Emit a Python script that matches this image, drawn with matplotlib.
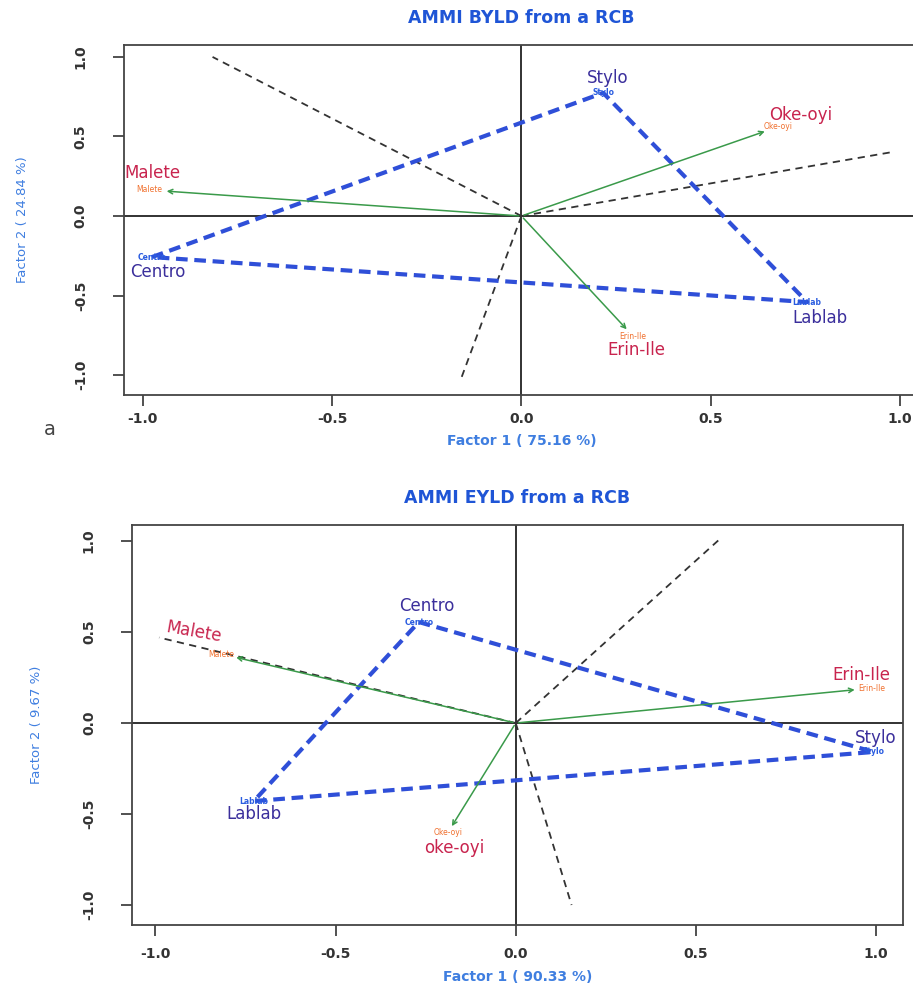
import numpy as np
import matplotlib
matplotlib.use('Agg')
from matplotlib import pyplot as plt

# BYLD biplot (factor 1 75.16 %, factor 2 24.84 %)
byld_env = ['Malete', 'Oke-oyi', 'Erin-Ile']
byld_env_x = [-0.984, 0.677, 0.295]
byld_env_y = [0.164, 0.560, -0.755]
byld_gen = ['Centro', 'Stylo', 'Lablab']
byld_gen_x = [-0.976, 0.216, 0.755]
byld_gen_y = [-0.258, 0.774, -0.541]
byld_ray_x = [-0.816, 0.982, -0.158]
byld_ray_y = [1.000, 0.403, -1.013]
byld_note = ['Malete', 'Oke-oyi', 'Erin-Ile', 'Centro', 'Stylo', 'Lablab']
byld_note_x = [-0.974, 0.737, 0.303, -0.960, 0.229, 0.789]
byld_note_y = [0.268, 0.635, -0.840, -0.350, 0.870, -0.640]
byld_note_rot = [0, 0, 0, 0, 0, 0]

# EYLD biplot (factor 1 90.33 %, factor 2 9.67 %)
eyld_env = ['Malete', 'Erin-Ile', 'Oke-oyi']
eyld_env_x = [-0.816, 0.988, -0.189]
eyld_env_y = [0.379, 0.192, -0.604]
eyld_gen = ['Centro', 'Stylo', 'Lablab']
eyld_gen_x = [-0.269, 0.993, -0.727]
eyld_gen_y = [0.555, -0.159, -0.429]
eyld_ray_x = [-0.990, 0.563, 0.155]
eyld_ray_y = [0.470, 1.005, -1.000]
eyld_note = ['Malete', 'Erin-Ile', 'oke-oyi', 'Centro', 'Stylo', 'Lablab']
eyld_note_x = [-0.893, 0.960, -0.172, -0.247, 1.000, -0.727]
eyld_note_y = [0.500, 0.265, -0.685, 0.645, -0.080, -0.500]
eyld_note_rot = [-10, 0, 0, 0, 0, 0]

ticks = [-1.0, -0.5, 0.0, 0.5, 1.0]
TITLE_BLUE = '#1f55d6'
LABEL_BLUE = '#3f7ee0'
ENV_NOTE = '#c8244e'
GEN_NOTE = '#3b2f9c'


def draw_panel(ax, title, xlab, ylab, env, ex, ey, gen, gx, gy, rx, ry,
               note, nx, ny, nrot, xlim, ylim, xpad=8, ylabpad=30):
    """Draw one AMMI biplot: environment vectors, genotype hull and sector rays."""
    ax.set_xlim(*xlim)
    ax.set_ylim(*ylim)
    ax.axhline(0, color='#222222', lw=1.3, zorder=1)
    ax.axvline(0, color='#222222', lw=1.3, zorder=1)
    # rays from the origin, perpendicular to the hull sides
    for x, y in zip(rx, ry):
        ax.plot([0, x], [0, y], color='#333333', lw=1.3,
                linestyle=(0, (4, 3)), zorder=2)
    # convex hull of the genotypes
    hx = list(gx) + [gx[0]]
    hy = list(gy) + [gy[0]]
    ax.plot(hx, hy, color='#2f4fd8', lw=3.0, linestyle=(0, (2.8, 1.6)),
            zorder=3)
    # environment vectors
    for x, y in zip(ex, ey):
        ax.annotate('', xy=(0.96 * x, 0.96 * y), xytext=(0, 0),
                    arrowprops=dict(arrowstyle='->', color='#3a9a4a', lw=1.1,
                                    mutation_scale=8), zorder=4)
    for name, x, y in zip(env, ex, ey):
        ax.text(x, y, name, color='#f0702e', fontsize=5.5, ha='center',
                va='center', zorder=5)
    for name, x, y in zip(gen, gx, gy):
        ax.text(x, y, name, color='#2a5ce0', fontsize=5.5, ha='center',
                va='center', fontweight='bold', zorder=5)
    # hand written names
    for i, (name, x, y, r) in enumerate(zip(note, nx, ny, nrot)):
        col = ENV_NOTE if i < 3 else GEN_NOTE
        ax.text(x, y, name, color=col, fontsize=12, ha='center', va='center',
                rotation=r, zorder=6)
    ax.set_xticks(ticks)
    ax.set_yticks(ticks)
    ax.set_xticklabels(['%.1f' % t for t in ticks], fontweight='bold',
                       color='#333333', fontsize=10)
    ax.set_yticklabels(['%.1f' % t for t in ticks], rotation=90, va='center',
                       fontweight='bold', color='#333333', fontsize=10)
    ax.tick_params(axis='x', length=8, width=1.2, pad=xpad, color='#333333')
    ax.tick_params(axis='y', length=8, width=1.2, pad=18, color='#333333')
    for sp in ax.spines.values():
        sp.set_color('#444444')
        sp.set_linewidth(1.3)
    ax.set_title(title, color=TITLE_BLUE, fontweight='bold', fontsize=12.5,
                 pad=16)
    ax.set_xlabel(xlab, color=LABEL_BLUE, fontweight='bold', fontsize=10,
                  labelpad=6)
    ax.set_ylabel(ylab, color=LABEL_BLUE, fontsize=9.5, labelpad=ylabpad)


fig = plt.figure(figsize=(9.13, 9.89), dpi=100)
ax1 = fig.add_axes([0.1358, 0.6006, 0.8706, 0.3539])
ax2 = fig.add_axes([0.1446, 0.0647, 0.8445, 0.4044])

draw_panel(ax1, 'AMMI BYLD from a RCB', 'Factor 1 ( 75.16 %)',
           'Factor 2 ( 24.84 %)', byld_env, byld_env_x, byld_env_y,
           byld_gen, byld_gen_x, byld_gen_y, byld_ray_x, byld_ray_y,
           byld_note, byld_note_x, byld_note_y, byld_note_rot,
           (-1.05, 1.05), (-1.125, 1.075), xpad=4, ylabpad=32)
draw_panel(ax2, 'AMMI EYLD from a RCB', 'Factor 1 ( 90.33 %)',
           'Factor 2 ( 9.67 %)', eyld_env, eyld_env_x, eyld_env_y,
           eyld_gen, eyld_gen_x, eyld_gen_y, eyld_ray_x, eyld_ray_y,
           eyld_note, eyld_note_x, eyld_note_y, eyld_note_rot,
           (-1.065, 1.075), (-1.11, 1.088), xpad=8, ylabpad=28)

fig.text(50 / 913, 1 - 430 / 989, 'a', fontsize=14, color='#444444',
         ha='center', va='center')

fig.savefig('out.png', dpi=100)
